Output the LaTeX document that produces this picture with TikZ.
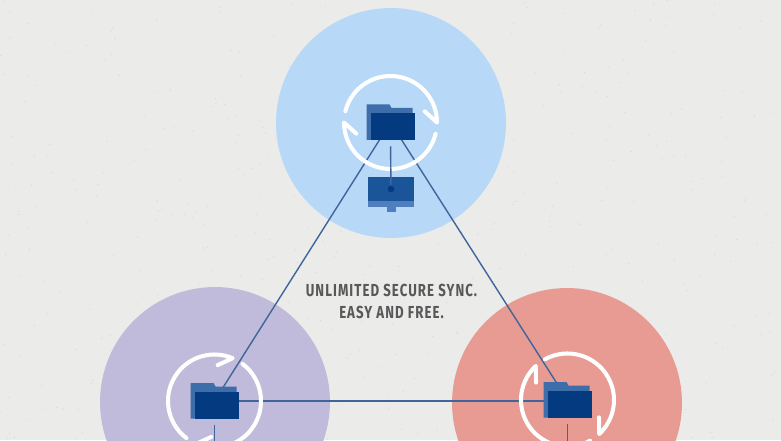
\documentclass[tikz,border=0pt]{standalone}
\usepackage{fontspec}
\setmainfont{Fira Sans}[FakeStretch=0.76,LetterSpace=6]
\usetikzlibrary{positioning}
\definecolor{paper}{HTML}{EBEBE9}
\definecolor{speckdark}{HTML}{DADAD8}
\definecolor{discblue}{HTML}{B8D8F8}
\definecolor{discviolet}{HTML}{C1BBDB}
\definecolor{discred}{HTML}{E89B93}
\definecolor{folderback}{HTML}{3D6EAA}
\definecolor{folderfront}{HTML}{033A80}
\definecolor{screenblue}{HTML}{1B5599}
\definecolor{bezelblue}{HTML}{4F80BD}
\definecolor{linkblue}{HTML}{3F659B}
\definecolor{captiongray}{HTML}{58585A}
\tikzset{
    disc/.style={circle, minimum size=4.6cm, inner sep=0pt},
    link/.style={linkblue, line width=0.8pt},
    syncring/.style={white, line width=2.3pt, line cap=round, line join=round},
    folderbox/.style={rectangle, minimum width=0.96cm, minimum height=0.71cm, inner sep=0pt},
    monitorpart/.style={rectangle, inner sep=0pt, outer sep=0pt},
}
\newcommand{\foldericon}[2]{
    \node[folderbox] (#1) at (#2) {};
    \fill[folderback, shift={(#2)}] (-24,18) -- (-1,18) -- (1,14.5) -- (22,14.5) -- (22,0) -- (0,-17.5) -- (-24,-17.5) -- cycle;
    \fill[folderfront, shift={(#2)}] (-19.5,9) rectangle (24,-17.5);
}

\begin{document}
\begin{tikzpicture}[x=0.02cm, y=0.02cm]
    \useasboundingbox (0,0) rectangle (781,440);
    \clip (0,0) rectangle (781,440);
    \fill[paper] (0,0) rectangle (781,440);
    % paper grain
    \pgfmathsetseed{11}
    \foreach \n in {1,...,450} {
        \pgfmathsetmacro{\grainx}{781*rnd}
        \pgfmathsetmacro{\grainy}{440*rnd}
        \fill[speckdark] (\grainx,\grainy) circle (0.7);
    }
    \node[disc, fill=discblue] (topdisc) at (391,317) {};
    \node[disc, fill=discviolet] (leftdisc) at (215,38) {};
    \node[disc, fill=discred] (rightdisc) at (567,37) {};
    \coordinate (topsync) at (390.5,317.5);
    \coordinate (leftsync) at (214.5,39);
    \coordinate (rightsync) at (567.5,40);
    \coordinate (leftdot) at (214.5,-30);
    \coordinate (rightdot) at (567.5,-30);
    % monitor under the top folder
    \node[monitorpart, fill=screenblue, minimum width=0.92cm, minimum height=0.486cm] (topscreen) at (391,251) {};
    \node[monitorpart, fill=bezelblue, minimum width=0.92cm, minimum height=0.12cm, below=0pt of topscreen] (topbezel) {};
    \node[monitorpart, fill=bezelblue, minimum width=0.18cm, minimum height=0.09cm, below=0pt of topbezel] (topstand) {};
    \node[circle, fill=folderfront, minimum size=0.13cm, inner sep=0pt] (topdot) at (topscreen) {};
    % links
    \draw[link] (topsync) -- (leftsync);
    \draw[link] (topsync) -- (rightsync);
    \draw[link] (leftsync) -- (leftsync -| rightsync);
    % rings
    \foreach \ringname/\tip in {topsync/0, leftsync/67, rightsync/-47} {
        \foreach \turn in {0,180} {
            \pgfmathsetmacro{\tipa}{\tip+\turn}
            \pgfmathsetmacro{\starta}{\tipa+166}
            \pgfmathsetmacro{\barba}{\tipa+18}
            \draw[syncring] ([shift={(\starta:46.5)}]\ringname) arc[start angle=\starta, end angle=\tipa, radius=46.5] -- ([shift={(\barba:36)}]\ringname);
        }
    }
    \foldericon{topfolder}{topsync}
    \foldericon{leftfolder}{leftsync}
    \foldericon{rightfolder}{rightsync}
    \draw[link, shorten <=0.114cm] (topfolder.south) -- (topdot);
    \draw[link, shorten <=0.114cm] (leftfolder.south) -- (leftdot);
    \draw[link, shorten <=0.114cm] (rightfolder.south) -- (rightdot);
    \node[align=center, text=captiongray, font=\fontsize{9.9}{12.5}\selectfont\bfseries, inner sep=0pt] (caption) at (391.5,139) {UNLIMITED SECURE SYNC.\\EASY AND FREE.};
\end{tikzpicture}
\end{document}
